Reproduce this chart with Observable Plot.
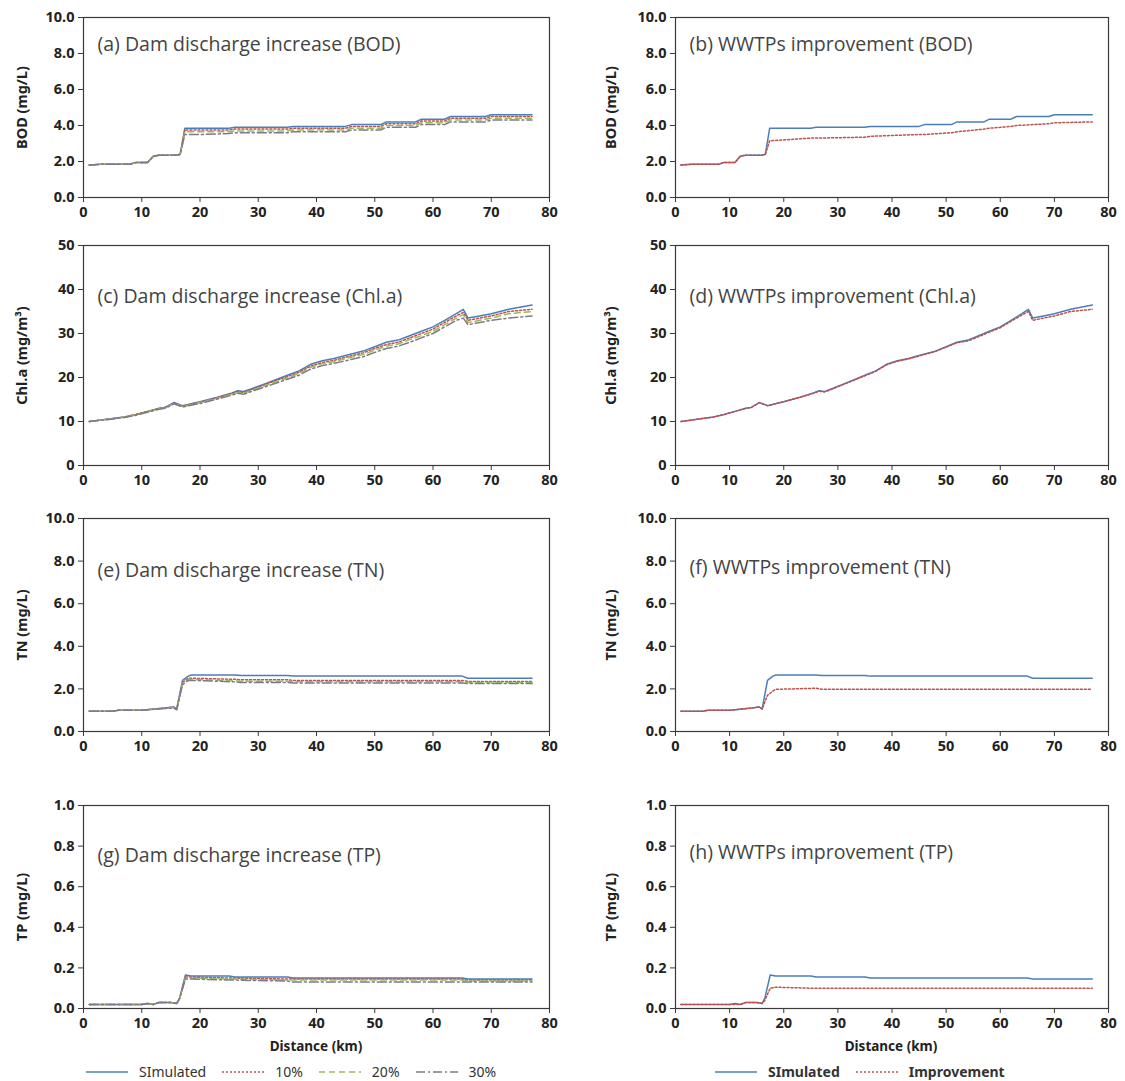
<!DOCTYPE html>
<html>
<head>
<meta charset="utf-8">
<script src="https://cdn.jsdelivr.net/npm/d3@7"></script>
<script src="https://cdn.jsdelivr.net/npm/@observablehq/plot@0.6"></script>
<style>
  html, body { margin: 0; padding: 0; background: #fff; }
  #wrap { position: relative; width: 1125px; height: 1081px; overflow: hidden; background: #fff; font-family: "Noto Sans", sans-serif; }
  .panel { position: absolute; }
  .xlab { position: absolute; font-weight: bold; font-size: 13.5px; color: #222; transform: translateX(-50%); white-space: nowrap; }
  .legend { position: absolute; display: flex; align-items: center; font-size: 14px; color: #333; white-space: nowrap; }
  .legend svg { margin-right: 11px; }
  .legend span { margin-right: 16px; }
</style>
</head>
<body>
<div id="wrap"></div>
<script>
// ---------------- data ----------------
const xTicks = [0, 10, 20, 30, 40, 50, 60, 70, 80];

// BOD (mg/L)
const bodKm   = [1, 3, 8, 9, 11, 12, 13, 16, 16.6, 17.4, 20, 25, 26, 35, 36, 45, 46, 51, 52, 57, 58, 62, 63, 69, 70, 77];
const bodSim  = [1.8, 1.85, 1.85, 1.95, 1.95, 2.3, 2.35, 2.35, 2.4, 3.85, 3.85, 3.85, 3.9, 3.9, 3.95, 3.95, 4.05, 4.05, 4.2, 4.2, 4.35, 4.35, 4.5, 4.5, 4.6, 4.6];
const bod10   = [1.8, 1.85, 1.85, 1.95, 1.95, 2.3, 2.35, 2.35, 2.4, 3.75, 3.75, 3.75, 3.8, 3.8, 3.85, 3.85, 3.95, 3.95, 4.1, 4.1, 4.25, 4.25, 4.4, 4.4, 4.5, 4.5];
const bod20   = [1.8, 1.85, 1.85, 1.95, 1.95, 2.3, 2.35, 2.35, 2.4, 3.65, 3.65, 3.65, 3.7, 3.7, 3.75, 3.75, 3.85, 3.85, 4.0, 4.0, 4.15, 4.15, 4.3, 4.3, 4.4, 4.4];
const bod30   = [1.8, 1.85, 1.85, 1.95, 1.95, 2.3, 2.35, 2.35, 2.4, 3.5, 3.5, 3.55, 3.6, 3.6, 3.65, 3.65, 3.75, 3.75, 3.9, 3.9, 4.05, 4.05, 4.2, 4.2, 4.3, 4.3];
const bodImp  = [1.8, 1.85, 1.85, 1.95, 1.95, 2.3, 2.35, 2.35, 2.4, 3.15, 3.2, 3.3, 3.3, 3.35, 3.4, 3.5, 3.5, 3.6, 3.65, 3.8, 3.85, 3.95, 4.0, 4.1, 4.15, 4.2];

// Chl.a (mg/m3)
const chlKm  = [1, 4, 7, 9, 11, 13, 14, 15.5, 17, 20, 23, 25.5, 26.5, 27.5, 29, 31, 33, 35, 37, 39, 41, 43, 45, 48, 50, 52, 54, 56, 58, 60, 62, 64, 65.2, 66, 68, 70, 73, 77];
const chlSim = [10, 10.5, 11, 11.6, 12.3, 13, 13.2, 14.3, 13.6, 14.5, 15.5, 16.5, 17, 16.8, 17.5, 18.5, 19.5, 20.5, 21.5, 23, 23.8, 24.3, 25, 26, 27, 28, 28.5, 29.5, 30.5, 31.5, 33, 34.5, 35.5, 33.5, 34, 34.5, 35.5, 36.5];
const chl10  = [10, 10.5, 11, 11.6, 12.3, 13, 13.2, 14.2, 13.5, 14.4, 15.4, 16.4, 16.8, 16.6, 17.3, 18.3, 19.3, 20.2, 21.2, 22.6, 23.4, 23.9, 24.6, 25.6, 26.6, 27.5, 28, 29, 30, 31, 32.5, 34, 34.8, 33, 33.5, 34, 35, 35.5];
const chl20  = [10, 10.5, 11, 11.5, 12.2, 12.9, 13.1, 14.1, 13.4, 14.3, 15.3, 16.2, 16.6, 16.4, 17.1, 18.1, 19, 19.9, 20.9, 22.3, 23.1, 23.6, 24.3, 25.2, 26.2, 27.1, 27.6, 28.6, 29.5, 30.5, 32, 33.5, 34.3, 32.5, 33, 33.5, 34.5, 35];
const chl30  = [10, 10.4, 10.9, 11.4, 12.1, 12.8, 13, 14, 13.3, 14.1, 15.1, 16, 16.4, 16.2, 16.9, 17.8, 18.7, 19.6, 20.5, 21.9, 22.7, 23.2, 23.8, 24.7, 25.7, 26.6, 27.1, 28, 29, 30, 31.5, 33, 33.5, 32, 32.5, 33, 33.5, 34];
const chlImp = [10, 10.5, 11, 11.6, 12.3, 13, 13.2, 14.3, 13.6, 14.5, 15.5, 16.4, 16.9, 16.7, 17.4, 18.4, 19.4, 20.4, 21.4, 22.9, 23.7, 24.2, 24.9, 25.9, 26.9, 27.9, 28.3, 29.3, 30.3, 31.3, 32.8, 34.2, 35, 33, 33.5, 34, 35, 35.5];

// TN (mg/L)
const tnKm  = [1, 5, 6, 10, 12, 14, 15.5, 16, 17, 18, 18.5, 26, 27, 35, 36, 65, 66, 77];
const tnSim = [0.95, 0.95, 1.0, 1.0, 1.05, 1.1, 1.15, 1.05, 2.4, 2.6, 2.65, 2.65, 2.63, 2.63, 2.6, 2.6, 2.5, 2.5];
const tn10  = [0.95, 0.95, 1.0, 1.0, 1.05, 1.1, 1.15, 1.05, 2.3, 2.5, 2.5, 2.45, 2.43, 2.43, 2.4, 2.4, 2.35, 2.35];
const tn20  = [0.95, 0.95, 1.0, 1.0, 1.05, 1.1, 1.12, 1.03, 2.25, 2.45, 2.45, 2.38, 2.36, 2.36, 2.33, 2.33, 2.3, 2.3];
const tn30  = [0.95, 0.95, 1.0, 1.0, 1.05, 1.08, 1.1, 1.02, 2.2, 2.4, 2.4, 2.33, 2.3, 2.3, 2.28, 2.28, 2.25, 2.25];
const tnImp = [0.95, 0.95, 1.0, 1.0, 1.05, 1.1, 1.15, 1.05, 1.7, 1.9, 1.98, 2.03, 1.98, 1.98, 1.98, 1.98, 1.98, 1.98];

// TP (mg/L)
const tpKm  = [1, 10, 11, 12, 13, 15, 16, 16.5, 17.5, 18.5, 25, 26, 35, 36, 65, 66, 77];
const tpSim = [0.02, 0.02, 0.025, 0.02, 0.03, 0.03, 0.025, 0.05, 0.165, 0.16, 0.16, 0.155, 0.155, 0.15, 0.15, 0.145, 0.145];
const tp10  = [0.02, 0.02, 0.025, 0.02, 0.03, 0.03, 0.025, 0.05, 0.155, 0.155, 0.15, 0.15, 0.145, 0.145, 0.145, 0.14, 0.14];
const tp20  = [0.02, 0.02, 0.025, 0.02, 0.03, 0.03, 0.025, 0.05, 0.15, 0.15, 0.145, 0.145, 0.14, 0.14, 0.14, 0.135, 0.135];
const tp30  = [0.02, 0.02, 0.025, 0.02, 0.03, 0.03, 0.025, 0.05, 0.145, 0.145, 0.14, 0.14, 0.135, 0.13, 0.13, 0.13, 0.13];
const tpImp = [0.02, 0.02, 0.02, 0.02, 0.03, 0.03, 0.025, 0.04, 0.1, 0.105, 0.1, 0.1, 0.1, 0.1, 0.1, 0.1, 0.1];

const scenarioNames = ["SImulated", "10%", "20%", "30%"];
const improveNames = ["SImulated", "Improvement"];

// ---------------- styles ----------------
const styles = {
  "SImulated":   {stroke: "#4a7ebb", dash: null},
  "10%":         {stroke: "#c0504d", dash: "2,2"},
  "20%":         {stroke: "#9bbb59", dash: "6,4"},
  "30%":         {stroke: "#7d7a8c", dash: "9,3,2,3"},
  "Improvement": {stroke: "#c0504d", dash: "2,2"}
};

const wrap = document.getElementById("wrap");
const mTop = 10, mBot = 30;

function rows(km, vals) { return km.map((d, i) => ({x: d, y: vals[i]})); }

function panel(o) {
  const h = (o.bottom - o.top) + mTop + mBot;
  const lineMarks = o.series.map(([name, vals]) => {
    const s = styles[name];
    return Plot.line(rows(o.km, vals), {x: "x", y: "y", stroke: s.stroke, strokeWidth: 1.5, strokeDasharray: s.dash});
  });
  const chart = Plot.plot({
    width: o.width, height: h,
    marginLeft: o.mLeft, marginRight: o.mRight, marginTop: mTop, marginBottom: mBot,
    style: {fontFamily: "'Noto Sans', sans-serif", fontSize: "14.5px", fontWeight: "bold", color: "#222", background: "transparent", overflow: "visible"},
    x: {domain: [0, 80]},
    y: {domain: o.yDomain},
    marks: [
      Plot.frame({stroke: "#3a3a3a", strokeWidth: 1.2}),
      Plot.axisX({ticks: xTicks, tickSize: 5, tickPadding: 4, label: null, stroke: "#3a3a3a"}),
      Plot.axisY({ticks: o.yTicks, tickFormat: o.fmt, tickSize: 5, tickPadding: 4, stroke: "#3a3a3a",
                  label: o.yLabel, labelAnchor: "center", labelArrow: "none", labelOffset: o.labelOffset}),
      ...lineMarks,
      Plot.text([o.title], {frameAnchor: "top-left", dx: 14, dy: o.titleDy, text: d => d, textAnchor: "start",
                 fontSize: 19.5, fontWeight: "normal", fill: "#444", fontFamily: "'Open Sans', sans-serif"})
    ]
  });
  const div = document.createElement("div");
  div.className = "panel";
  div.style.left = o.left + "px";
  div.style.top = (o.top - mTop) + "px";
  div.appendChild(chart);
  wrap.appendChild(div);
}

const L = {left: 0, width: 560, mLeft: 83, mRight: 11, labelOffset: 67};
const R = {left: 560, width: 565, mLeft: 115, mRight: 17, labelOffset: 70};
const rowsPos = [
  {top: 17, bottom: 197},
  {top: 245, bottom: 465},
  {top: 518, bottom: 731},
  {top: 805, bottom: 1008}
];

const f1 = d3.format(".1f"), f0 = d3.format("d");

panel({...L, ...rowsPos[0], km: bodKm, yDomain: [0, 10], yTicks: [0, 2, 4, 6, 8, 10], fmt: f1, yLabel: "BOD (mg/L)",
  title: "(a) Dam discharge increase (BOD)", titleDy: 20,
  series: [["SImulated", bodSim], ["10%", bod10], ["20%", bod20], ["30%", bod30]]});
panel({...R, ...rowsPos[0], km: bodKm, yDomain: [0, 10], yTicks: [0, 2, 4, 6, 8, 10], fmt: f1, yLabel: "BOD (mg/L)",
  title: "(b) WWTPs improvement (BOD)", titleDy: 20,
  series: [["SImulated", bodSim], ["Improvement", bodImp]]});

panel({...L, ...rowsPos[1], km: chlKm, yDomain: [0, 50], yTicks: [0, 10, 20, 30, 40, 50], fmt: f0, yLabel: "Chl.a (mg/m³)",
  title: "(c) Dam discharge increase (Chl.a)", titleDy: 44,
  series: [["SImulated", chlSim], ["10%", chl10], ["20%", chl20], ["30%", chl30]]});
panel({...R, ...rowsPos[1], km: chlKm, yDomain: [0, 50], yTicks: [0, 10, 20, 30, 40, 50], fmt: f0, yLabel: "Chl.a (mg/m³)",
  title: "(d) WWTPs improvement (Chl.a)", titleDy: 44,
  series: [["SImulated", chlSim], ["Improvement", chlImp]]});

panel({...L, ...rowsPos[2], km: tnKm, yDomain: [0, 10], yTicks: [0, 2, 4, 6, 8, 10], fmt: f1, yLabel: "TN (mg/L)",
  title: "(e) Dam discharge increase (TN)", titleDy: 45,
  series: [["SImulated", tnSim], ["10%", tn10], ["20%", tn20], ["30%", tn30]]});
panel({...R, ...rowsPos[2], km: tnKm, yDomain: [0, 10], yTicks: [0, 2, 4, 6, 8, 10], fmt: f1, yLabel: "TN (mg/L)",
  title: "(f) WWTPs improvement (TN)", titleDy: 42,
  series: [["SImulated", tnSim], ["Improvement", tnImp]]});

panel({...L, ...rowsPos[3], km: tpKm, yDomain: [0, 1], yTicks: [0, 0.2, 0.4, 0.6, 0.8, 1.0], fmt: f1, yLabel: "TP (mg/L)",
  title: "(g) Dam discharge increase (TP)", titleDy: 43,
  series: [["SImulated", tpSim], ["10%", tp10], ["20%", tp20], ["30%", tp30]]});
panel({...R, ...rowsPos[3], km: tpKm, yDomain: [0, 1], yTicks: [0, 0.2, 0.4, 0.6, 0.8, 1.0], fmt: f1, yLabel: "TP (mg/L)",
  title: "(h) WWTPs improvement (TP)", titleDy: 40,
  series: [["SImulated", tpSim], ["Improvement", tpImp]]});

// x axis titles
function xlab(x, y) {
  const d = document.createElement("div");
  d.className = "xlab"; d.textContent = "Distance (km)";
  d.style.left = x + "px"; d.style.top = y + "px";
  wrap.appendChild(d);
}
xlab(316, 1037);
xlab(891, 1037);

// legends
function legend(x, y, names, bold) {
  const d = document.createElement("div");
  d.className = "legend";
  d.style.left = x + "px"; d.style.top = y + "px";
  if (bold) d.style.fontWeight = "bold";
  names.forEach(n => {
    const s = styles[n];
    const svg = d3.create("svg").attr("width", 42).attr("height", 10);
    svg.append("line").attr("x1", 0).attr("x2", 42).attr("y1", 5).attr("y2", 5)
      .attr("stroke", s.stroke).attr("stroke-width", 1.5).attr("stroke-dasharray", s.dash);
    d.appendChild(svg.node());
    const t = document.createElement("span"); t.textContent = n;
    d.appendChild(t);
  });
  wrap.appendChild(d);
}
legend(86, 1062, scenarioNames, false);
legend(715, 1062, improveNames, true);
</script>
</body>
</html>
